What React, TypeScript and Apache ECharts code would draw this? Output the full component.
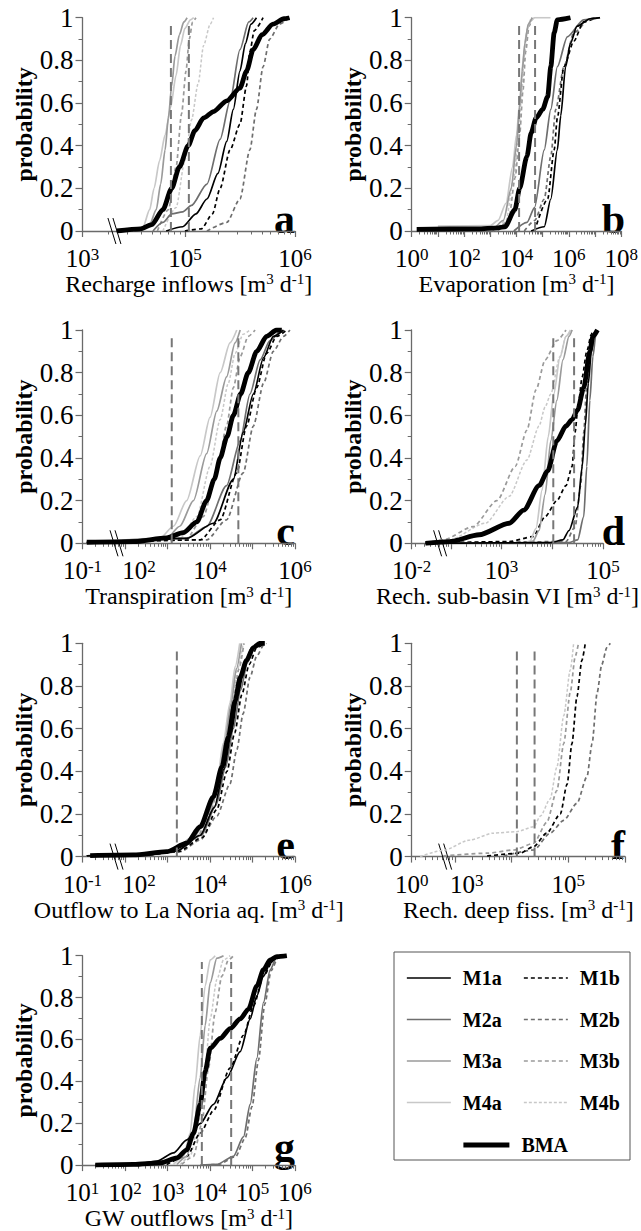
import React, { useEffect, useRef } from 'react';
import * as echarts from 'echarts';

// ---------------- DATA (x values are log10 of flow in m3/d, y = cumulative probability) ----------------
const panelKeys = ['a', 'b', 'c', 'd', 'e', 'f', 'g'];
const xTitles = ['Recharge inflows', 'Evaporation', 'Transpiration', 'Rech. sub-basin VI', 'Outflow to La Noria aq.', 'Rech. deep fiss.', 'GW outflows'];
const xMins = [4.07, 0, 1.0, 1.23, 1.0, 2.24, 1.0];
const xMaxs = [6, 8, 6, 5, 6, 6, 6];
const tickVals = [[4.07, 5, 6], [0, 2, 4, 6, 8], [1, 2, 4, 6], [1.23, 3, 5], [1, 2, 4, 6], [2.24, 3, 5], [1, 2, 3, 4, 5, 6]];
const tickExps = [['3', '5', '6'], ['0', '2', '4', '6', '8'], ['-1', '2', '4', '6'], ['-2', '3', '5'], ['-1', '2', '4', '6'], ['0', '3', '5'], ['1', '2', '3', '4', '5', '6']];
const breakAt = [4.36, null, 1.8, 1.79, 1.8, 2.83, null];
const obsLines = [[4.873, 5.036], [4.1, 4.71], [3.1, 4.667], [4.02, 4.43], [3.22], [4.094, 4.406], [3.808, 4.498]];
const yTicks = [0, 0.2, 0.4, 0.6, 0.8, 1];

// panel a
const aM1a = [[4.83, 0], [4.98, 0.02], [5.1, 0.08], [5.2, 0.15], [5.3, 0.27], [5.38, 0.42], [5.44, 0.57], [5.5, 0.75], [5.55, 0.88], [5.6, 0.97], [5.65, 1]];
const aM1b = [[5.0, 0], [5.15, 0.01], [5.25, 0.08], [5.32, 0.2], [5.41, 0.38], [5.5, 0.5], [5.56, 0.68], [5.59, 0.84], [5.63, 0.94], [5.71, 1]];
const aM2a = [[4.71, 0], [4.8, 0.04], [4.88, 0.08], [4.98, 0.09], [5.06, 0.12], [5.2, 0.22], [5.32, 0.43], [5.41, 0.61], [5.5, 0.85], [5.58, 0.98], [5.62, 1]];
const aM2b = [[5.2, 0], [5.38, 0.04], [5.5, 0.15], [5.59, 0.38], [5.65, 0.57], [5.71, 0.77], [5.77, 0.9], [5.86, 0.97], [5.95, 1]];
const aM3a = [[4.59, 0], [4.68, 0.03], [4.74, 0.1], [4.78, 0.22], [4.82, 0.38], [4.85, 0.53], [4.88, 0.68], [4.91, 0.82], [4.95, 0.92], [4.99, 0.98], [5.02, 1]];
const aM3b = [[4.75, 0], [4.85, 0.1], [4.92, 0.3], [4.97, 0.55], [5.01, 0.75], [5.04, 0.9], [5.07, 0.98], [5.1, 1]];
const aM4a = [[4.53, 0], [4.62, 0.02], [4.68, 0.1], [4.72, 0.2], [4.77, 0.33], [4.82, 0.45], [4.87, 0.58], [4.92, 0.73], [4.96, 0.87], [5.0, 0.95], [5.05, 0.99], [5.08, 1]];
const aM4b = [[4.8, 0], [4.92, 0.11], [5.0, 0.33], [5.06, 0.52], [5.12, 0.69], [5.17, 0.87], [5.23, 0.97], [5.26, 1]];
const aBMA = [[4.38, 0], [4.6, 0.01], [4.7, 0.03], [4.8, 0.1], [4.88, 0.2], [4.95, 0.3], [5.03, 0.4], [5.09, 0.47], [5.17, 0.53], [5.26, 0.56], [5.38, 0.61], [5.5, 0.67], [5.56, 0.75], [5.62, 0.85], [5.7, 0.92], [5.8, 0.97], [5.9, 0.995], [5.95, 1]];

// panel b
const bM1a = [[4.56, 0], [5.06, 0.02], [5.31, 0.15], [5.56, 0.38], [5.69, 0.54], [5.875, 0.77], [6.06, 0.88], [6.31, 0.96], [6.81, 0.995], [7.19, 1]];
const bM1b = [[4.69, 0], [5.19, 0.15], [5.44, 0.38], [5.56, 0.53], [5.81, 0.77], [6.19, 0.89], [6.56, 0.98], [7.06, 1]];
const bM2a = [[3.9, 0], [4.4, 0.04], [4.69, 0.11], [5.06, 0.38], [5.31, 0.57], [5.56, 0.77], [5.94, 0.91], [6.56, 0.99], [7.19, 1]];
const bM2b = [[4.3, 0], [4.7, 0.05], [5.06, 0.15], [5.31, 0.35], [5.5, 0.57], [5.81, 0.77], [6.19, 0.93], [6.81, 0.995], [7.0, 1]];
const bM3a = [[3.1, 0], [3.5, 0.05], [3.8, 0.2], [4.0, 0.4], [4.12, 0.58], [4.22, 0.75], [4.32, 0.88], [4.45, 0.97], [4.6, 1]];
const bM3b = [[3.3, 0], [3.7, 0.05], [3.95, 0.25], [4.12, 0.45], [4.25, 0.66], [4.35, 0.84], [4.48, 0.96], [4.6, 1]];
const bM4a = [[1.0, 0.023], [3.0, 0.025], [3.3, 0.05], [3.6, 0.13], [3.85, 0.3], [4.0, 0.45], [4.12, 0.6], [4.25, 0.8], [4.38, 0.93], [4.5, 0.98], [4.7, 1], [5.3, 1]];
const bM4b = [[3.2, 0], [3.6, 0.05], [3.9, 0.25], [4.08, 0.45], [4.2, 0.65], [4.3, 0.82], [4.42, 0.95], [4.55, 1]];
const bBMA = [[0.19, 0.008], [2.5, 0.01], [3.3, 0.015], [3.56, 0.02], [3.94, 0.1], [4.12, 0.2], [4.4, 0.35], [4.56, 0.46], [4.75, 0.53], [5.0, 0.57], [5.19, 0.63], [5.31, 0.77], [5.44, 0.93], [5.56, 0.99], [6.06, 1]];

// panel c
const cM1a = [[1.1, 0.003], [3.45, 0.023], [4.08, 0.094], [4.55, 0.3], [4.78, 0.52], [5.02, 0.7], [5.26, 0.87], [5.49, 0.97], [5.73, 1]];
const cM1b = [[1.1, 0.003], [3.77, 0.016], [4.24, 0.11], [4.63, 0.33], [4.86, 0.55], [5.1, 0.73], [5.33, 0.89], [5.57, 0.97], [5.8, 1]];
const cM2a = [[1.1, 0.003], [3.45, 0.023], [3.92, 0.078], [4.39, 0.27], [4.71, 0.48], [4.94, 0.7], [5.18, 0.86], [5.41, 0.95], [5.65, 1]];
const cM2b = [[1.1, 0.003], [3.92, 0.016], [4.39, 0.11], [4.78, 0.33], [5.02, 0.55], [5.26, 0.75], [5.49, 0.9], [5.73, 0.97], [5.88, 1]];
const cM3a = [[1.1, 0.003], [2.98, 0.023], [3.29, 0.08], [3.61, 0.2], [3.92, 0.42], [4.16, 0.62], [4.39, 0.78], [4.59, 0.94], [4.71, 1]];
const cM3b = [[1.1, 0.003], [3.45, 0.023], [3.84, 0.125], [4.16, 0.33], [4.39, 0.55], [4.55, 0.73], [4.71, 0.875], [4.9, 0.97], [5.06, 1]];
const cM4a = [[1.1, 0.003], [2.82, 0.023], [3.14, 0.08], [3.45, 0.2], [3.77, 0.41], [4.0, 0.59], [4.24, 0.8], [4.47, 0.94], [4.63, 1]];
const cM4b = [[1.1, 0.003], [3.29, 0.023], [3.69, 0.125], [4.0, 0.36], [4.24, 0.58], [4.43, 0.75], [4.59, 0.89], [4.78, 0.98], [4.94, 1]];
const cBMA = [[1.1, 0.005], [2.2, 0.008], [2.98, 0.025], [3.37, 0.05], [3.69, 0.1], [3.92, 0.2], [4.1, 0.3], [4.24, 0.4], [4.4, 0.5], [4.55, 0.6], [4.72, 0.7], [4.9, 0.8], [5.1, 0.9], [5.33, 0.97], [5.57, 1], [5.69, 1]];

// panel d
const dM1a = [[1.5, 0], [3.97, 0.003], [4.21, 0.016], [4.33, 0.06], [4.5, 0.17], [4.59, 0.36], [4.65, 0.55], [4.71, 0.75], [4.77, 0.9], [4.83, 0.98], [4.89, 1]];
const dM1b = [[1.5, 0], [3.15, 0.008], [3.62, 0.031], [3.86, 0.125], [4.09, 0.2], [4.27, 0.27], [4.39, 0.36], [4.45, 0.52], [4.5, 0.625], [4.59, 0.78], [4.68, 0.9], [4.77, 0.98], [4.8, 1]];
const dM2a = [[1.5, 0], [4.33, 0.003], [4.5, 0.016], [4.62, 0.125], [4.68, 0.36], [4.74, 0.67], [4.8, 0.875], [4.86, 0.98], [4.89, 1]];
const dM2b = [[1.5, 0], [4.27, 0.008], [4.45, 0.078], [4.56, 0.27], [4.62, 0.52], [4.68, 0.75], [4.74, 0.9], [4.8, 0.98], [4.86, 1]];
const dM3a = [[1.5, 0], [3.5, 0], [3.62, 0.01], [3.74, 0.06], [3.86, 0.23], [3.97, 0.48], [4.09, 0.67], [4.21, 0.86], [4.33, 0.97], [4.39, 1]];
const dM3b = [[1.5, 0], [1.85, 0.016], [2.44, 0.078], [2.91, 0.2], [3.27, 0.36], [3.5, 0.53], [3.68, 0.72], [3.86, 0.86], [4.09, 0.95], [4.27, 1]];
const dM4a = [[1.5, 0], [3.45, 0], [3.56, 0.01], [3.68, 0.07], [3.8, 0.25], [3.92, 0.5], [4.03, 0.7], [4.15, 0.87], [4.27, 0.97], [4.36, 1]];
const dM4b = [[1.5, 0], [1.97, 0.016], [2.68, 0.094], [3.15, 0.22], [3.5, 0.39], [3.74, 0.55], [3.86, 0.64], [3.97, 0.7], [4.15, 0.875], [4.27, 0.97], [4.39, 1]];
const dBMA = [[1.5, 0], [1.97, 0.008], [2.56, 0.04], [3.15, 0.094], [3.44, 0.156], [3.74, 0.27], [3.91, 0.34], [4.09, 0.48], [4.27, 0.55], [4.39, 0.58], [4.5, 0.625], [4.62, 0.73], [4.74, 0.9], [4.8, 0.97], [4.89, 1]];

// panel e
const eM1a = [[1.1, 0.003], [2.5, 0.008], [3.2, 0.025], [3.77, 0.1], [4.1, 0.23], [4.33, 0.41], [4.5, 0.58], [4.66, 0.76], [4.82, 0.9], [4.98, 0.98], [5.18, 1]];
const eM1b = [[1.1, 0.003], [2.5, 0.008], [3.25, 0.023], [3.82, 0.09], [4.16, 0.22], [4.4, 0.4], [4.58, 0.58], [4.75, 0.76], [4.92, 0.9], [5.1, 0.98], [5.28, 1]];
const eM2a = [[1.1, 0.003], [2.5, 0.008], [3.2, 0.025], [3.8, 0.1], [4.14, 0.24], [4.37, 0.42], [4.55, 0.6], [4.72, 0.78], [4.88, 0.91], [5.05, 0.98], [5.22, 1]];
const eM2b = [[1.1, 0.003], [2.5, 0.008], [3.3, 0.023], [3.77, 0.078], [4.16, 0.19], [4.47, 0.34], [4.63, 0.5], [4.78, 0.67], [4.94, 0.84], [5.1, 0.94], [5.26, 0.99], [5.33, 1]];
const eM3a = [[1.1, 0.003], [2.5, 0.01], [3.14, 0.03], [3.65, 0.1], [3.96, 0.2], [4.2, 0.36], [4.35, 0.54], [4.5, 0.72], [4.62, 0.88], [4.74, 1]];
const eM3b = [[1.1, 0.003], [2.5, 0.01], [3.25, 0.03], [3.72, 0.1], [4.02, 0.21], [4.24, 0.38], [4.4, 0.55], [4.55, 0.73], [4.68, 0.88], [4.8, 1]];
const eM4a = [[1.1, 0.003], [2.5, 0.01], [3.14, 0.031], [3.61, 0.094], [3.92, 0.19], [4.16, 0.34], [4.31, 0.53], [4.47, 0.72], [4.59, 0.89], [4.7, 1]];
const eM4b = [[1.1, 0.003], [2.5, 0.01], [3.2, 0.03], [3.7, 0.1], [4.0, 0.21], [4.22, 0.38], [4.38, 0.55], [4.52, 0.72], [4.65, 0.88], [4.78, 1]];
const eBMA = [[1.18, 0.005], [2.2, 0.008], [2.98, 0.023], [3.45, 0.0625], [3.77, 0.14], [4.08, 0.28], [4.28, 0.42], [4.43, 0.56], [4.59, 0.73], [4.71, 0.84], [4.86, 0.92], [5.02, 0.98], [5.18, 1], [5.29, 1]];

// panel f (only "b" models)
const fM1b = [[3.57, 0.003], [4.15, 0.016], [4.39, 0.047], [4.62, 0.11], [4.86, 0.2], [4.98, 0.34], [5.065, 0.53], [5.153, 0.75], [5.24, 0.92], [5.3, 1]];
const fM2b = [[3.86, 0.003], [4.39, 0.031], [4.68, 0.11], [4.92, 0.17], [5.153, 0.25], [5.33, 0.375], [5.42, 0.53], [5.51, 0.77], [5.59, 0.9], [5.68, 0.98], [5.74, 1]];
const fM3b = [[2.8, 0.003], [3.57, 0.016], [4.04, 0.031], [4.39, 0.0625], [4.62, 0.16], [4.8, 0.31], [4.92, 0.53], [5.035, 0.77], [5.124, 0.94], [5.18, 1]];
const fM4b = [[2.39, 0], [2.8, 0.03], [3.27, 0.078], [3.68, 0.11], [4.09, 0.117], [4.39, 0.14], [4.51, 0.19], [4.68, 0.27], [4.8, 0.42], [4.92, 0.66], [5.035, 0.875], [5.094, 1]];

// panel g
const gM1a = [[1.3, 0], [2.2, 0.003], [2.75, 0.019], [3.14, 0.058], [3.455, 0.12], [3.769, 0.198], [4.082, 0.29], [4.396, 0.417], [4.71, 0.542], [4.945, 0.698], [5.102, 0.808], [5.259, 0.902], [5.416, 0.964], [5.573, 0.995], [5.65, 1]];
const gM1b = [[2.98, 0.003], [3.455, 0.042], [3.769, 0.152], [4.082, 0.26], [4.475, 0.464], [4.788, 0.62], [5.024, 0.76], [5.259, 0.902], [5.494, 0.98], [5.651, 1]];
const gM2a = [[3.77, 0], [4.16, 0.003], [4.55, 0.042], [4.79, 0.136], [4.945, 0.29], [5.102, 0.51], [5.259, 0.777], [5.416, 0.933], [5.573, 0.995], [5.73, 1]];
const gM2b = [[3.85, 0], [4.2, 0.003], [4.6, 0.04], [4.83, 0.13], [4.99, 0.28], [5.14, 0.5], [5.29, 0.77], [5.44, 0.93], [5.6, 0.99], [5.75, 1]];
const gM3a = [[3.22, 0.003], [3.455, 0.042], [3.612, 0.167], [3.769, 0.417], [3.886, 0.667], [4.004, 0.87], [4.161, 0.988], [4.318, 1]];
const gM3b = [[3.337, 0.003], [3.612, 0.042], [3.808, 0.198], [3.965, 0.464], [4.122, 0.73], [4.278, 0.902], [4.435, 0.98], [4.553, 1]];
const gM4a = [[3.14, 0.003], [3.376, 0.042], [3.533, 0.152], [3.651, 0.386], [3.769, 0.62], [3.886, 0.855], [4.004, 0.98], [4.122, 1]];
const gM4b = [[3.3, 0.003], [3.533, 0.042], [3.729, 0.198], [3.886, 0.464], [4.004, 0.698], [4.161, 0.886], [4.318, 0.98], [4.475, 1]];
const gBMA = [[1.3, 0], [2.2, 0.003], [2.83, 0.011], [3.22, 0.034], [3.455, 0.073], [3.612, 0.152], [3.769, 0.29], [3.886, 0.448], [4.004, 0.558], [4.239, 0.605], [4.475, 0.652], [4.71, 0.698], [4.906, 0.745], [5.102, 0.855], [5.259, 0.933], [5.416, 0.98], [5.573, 0.995], [5.808, 1]];

const curves: Record<string, Record<string, number[][]>> = {
  a: { M1a: aM1a, M1b: aM1b, M2a: aM2a, M2b: aM2b, M3a: aM3a, M3b: aM3b, M4a: aM4a, M4b: aM4b, BMA: aBMA },
  b: { M1a: bM1a, M1b: bM1b, M2a: bM2a, M2b: bM2b, M3a: bM3a, M3b: bM3b, M4a: bM4a, M4b: bM4b, BMA: bBMA },
  c: { M1a: cM1a, M1b: cM1b, M2a: cM2a, M2b: cM2b, M3a: cM3a, M3b: cM3b, M4a: cM4a, M4b: cM4b, BMA: cBMA },
  d: { M1a: dM1a, M1b: dM1b, M2a: dM2a, M2b: dM2b, M3a: dM3a, M3b: dM3b, M4a: dM4a, M4b: dM4b, BMA: dBMA },
  e: { M1a: eM1a, M1b: eM1b, M2a: eM2a, M2b: eM2b, M3a: eM3a, M3b: eM3b, M4a: eM4a, M4b: eM4b, BMA: eBMA },
  f: { M1b: fM1b, M2b: fM2b, M3b: fM3b, M4b: fM4b },
  g: { M1a: gM1a, M1b: gM1b, M2a: gM2a, M2b: gM2b, M3a: gM3a, M3b: gM3b, M4a: gM4a, M4b: gM4b, BMA: gBMA },
};

// ---------------- STYLE / LAYOUT ----------------
const FONT = 'Liberation Serif';
const AXIS = '#6a6a6a';
const DRAW_ORDER = ['M4b', 'M3b', 'M2b', 'M1b', 'M4a', 'M3a', 'M2a', 'M1a', 'BMA'];
const seriesStyle: Record<string, { color: string; type: any; width: number }> = {
  M1a: { color: '#000000', type: 'solid', width: 1.7 },
  M1b: { color: '#000000', type: [4, 3], width: 1.7 },
  M2a: { color: '#6e6e6e', type: 'solid', width: 1.7 },
  M2b: { color: '#6e6e6e', type: [4, 3], width: 1.7 },
  M3a: { color: '#9a9a9a', type: 'solid', width: 1.7 },
  M3b: { color: '#9a9a9a', type: [4, 3], width: 1.7 },
  M4a: { color: '#c8c8c8', type: 'solid', width: 1.7 },
  M4b: { color: '#c8c8c8', type: [3, 2], width: 1.5 },
  BMA: { color: '#000000', type: 'solid', width: 4.8 },
};
const COL_LEFT = [82.5, 411.7];
const COL_W = [212.5, 213.3];
const ROW_TOP = [17.7, 330, 643.3, 955.7];
const GRID_H = 213.3;
const LABEL_SHIFT = [0, 0, 28, 0, 28, 24, 0]; // right-shift of the label just after an axis break

function buildOption() {
  const grid: any[] = [];
  const xAxis: any[] = [];
  const yAxis: any[] = [];
  const series: any[] = [];
  const graphic: any[] = [];

  panelKeys.forEach((key, i) => {
    const col = i % 2;
    const row = Math.floor(i / 2);
    const left = COL_LEFT[col];
    const width = COL_W[col];
    const top = ROW_TOP[row];
    grid.push({ left, top, width, height: GRID_H, containLabel: false });

    const min = xMins[i];
    const max = xMaxs[i];
    const majors: number[] = [min];
    const minors: number[] = [];
    for (let d = Math.floor(min); d <= Math.ceil(max); d++) {
      if (d > min + 1e-6 && d <= max + 1e-6) majors.push(d);
      for (let k = 2; k <= 9; k++) {
        const v = d + Math.log10(k);
        if (v > min + 1e-6 && v < max - 1e-6) minors.push(v);
      }
    }
    const tv = tickVals[i];
    const te = tickExps[i];
    const labelFormatter = (v: number) => {
      const j = tv.findIndex((t) => Math.abs(t - v) < 1e-6);
      if (j < 0) return '';
      const shifted = LABEL_SHIFT[i] > 0 && j === 1;
      return (shifted ? '{bp|10}' : '{b|10}') + '{s|' + te[j] + '}';
    };
    const axisLine = { show: true, onZero: false, lineStyle: { color: AXIS, width: 1.3 } };
    xAxis.push({
      type: 'value', gridIndex: i, min, max, position: 'bottom',
      axisLine,
      splitLine: { show: false },
      axisTick: { show: true, customValues: majors, length: 6, lineStyle: { color: AXIS, width: 1.2 } },
      axisLabel: {
        customValues: tv,
        formatter: labelFormatter,
        margin: 15,
        color: '#000',
        rich: {
          b: { fontFamily: FONT, fontSize: 25, color: '#000', verticalAlign: 'bottom' },
          bp: { fontFamily: FONT, fontSize: 25, color: '#000', verticalAlign: 'bottom', padding: [0, 0, 0, LABEL_SHIFT[i]] },
          s: { fontFamily: FONT, fontSize: 17, color: '#000', verticalAlign: 'top' },
        },
      },
      name: '{n|' + xTitles[i] + ' [m}{s|3}{n| d}{s|-1}{n|]}',
      nameLocation: 'middle',
      nameGap: 37,
      nameTextStyle: {
        rich: {
          n: { fontFamily: FONT, fontSize: 24, color: '#000', verticalAlign: 'bottom' },
          s: { fontFamily: FONT, fontSize: 15, color: '#000', verticalAlign: 'top' },
        },
      },
    });
    xAxis.push({
      type: 'value', gridIndex: i, min, max, position: 'bottom',
      axisLine: { show: false, onZero: false },
      splitLine: { show: false },
      axisTick: { show: true, customValues: minors, length: 3.5, lineStyle: { color: AXIS, width: 1 } },
      axisLabel: { show: false },
    });
    yAxis.push({
      type: 'value', gridIndex: i, min: 0, max: 1, interval: 0.2,
      axisLine: { show: true, lineStyle: { color: AXIS, width: 1.3 } },
      axisTick: { show: true, length: 7, lineStyle: { color: AXIS, width: 1.2 } },
      minorTick: { show: true, splitNumber: 2, length: 4, lineStyle: { color: AXIS, width: 1 } },
      splitLine: { show: false },
      minorSplitLine: { show: false },
      axisLabel: {
        margin: 9, fontFamily: FONT, fontSize: 27, color: '#000',
        customValues: yTicks,
        formatter: (v: number) => (v === 0 || v === 1 ? String(v) : v.toFixed(1)),
      },
      name: 'probability',
      nameLocation: 'middle',
      nameGap: 44,
      nameTextStyle: { fontFamily: FONT, fontSize: 24, fontWeight: 'bold', color: '#000' },
    });

    const data = curves[key];
    DRAW_ORDER.forEach((m) => {
      if (!data[m]) return;
      const st = seriesStyle[m];
      series.push({
        type: 'line', name: m, xAxisIndex: 2 * i, yAxisIndex: i,
        data: data[m], showSymbol: false, symbol: 'none',
        smooth: 0.25, smoothMonotone: 'x',
        lineStyle: { color: st.color, type: st.type, width: st.width },
        itemStyle: { color: st.color },
        emphasis: { disabled: true },
        silent: true,
      });
    });
    obsLines[i].forEach((xv, j) => {
      series.push({
        type: 'line', name: 'obs' + key + j, xAxisIndex: 2 * i, yAxisIndex: i,
        data: [[xv, 0], [xv, 0.97]], showSymbol: false, symbol: 'none',
        lineStyle: { color: '#777777', type: [9, 5], width: 2 },
        silent: true,
      });
    });
    if (breakAt[i] !== null) {
      series.push({
        type: 'custom', name: 'break' + key, xAxisIndex: 2 * i, yAxisIndex: i,
        data: [[breakAt[i], 0]], clip: false, silent: true,
        renderItem: (params: any, api: any) => {
          const p = api.coord([api.value(0), api.value(1)]);
          const h = 13, dx = 4, sep = 5;
          return {
            type: 'group',
            children: [
              { type: 'line', shape: { x1: p[0] - sep / 2 - dx, y1: p[1] - h, x2: p[0] - sep / 2 + dx, y2: p[1] + h }, style: { stroke: '#000', lineWidth: 1 } },
              { type: 'line', shape: { x1: p[0] + sep / 2 - dx, y1: p[1] - h, x2: p[0] + sep / 2 + dx, y2: p[1] + h }, style: { stroke: '#000', lineWidth: 1 } },
            ],
          };
        },
      });
    }
    // panel letter
    graphic.push({
      type: 'text',
      x: left + width,
      y: top + GRID_H + (key === 'g' ? -1 : 9),
      style: { text: key, font: 'bold 42px "Liberation Serif"', fill: '#000', align: 'right', verticalAlign: 'bottom' },
      silent: true,
    });
  });

  // legend frame
  graphic.push({
    type: 'rect', shape: { x: 394, y: 952, width: 236, height: 208 },
    style: { fill: 'none', stroke: '#555', lineWidth: 1 }, silent: true,
  });

  const legendText = { fontFamily: FONT, fontWeight: 'bold', fontSize: 20, color: '#000', lineHeight: 22, padding: [0, 0, 0, 7] };
  const legendBase = {
    orient: 'vertical', padding: 0, itemWidth: 44, itemHeight: 14, itemGap: 19.5,
    textStyle: legendText, selectedMode: false,
    itemStyle: { opacity: 0 },
    lineStyle: { width: 'inherit' },
  };
  const legend = [
    { ...legendBase, left: 406, top: 967, data: ['M1a', 'M2a', 'M3a', 'M4a'] },
    { ...legendBase, left: 523, top: 967, data: ['M1b', 'M2b', 'M3b', 'M4b'] },
    { ...legendBase, left: 461, top: 1134, itemWidth: 46, data: ['BMA'] },
  ];

  return { animation: false, backgroundColor: '#fff', grid, xAxis, yAxis, series, graphic, legend };
}

export default function App() {
  const ref = useRef<HTMLDivElement>(null);
  useEffect(() => {
    if (!ref.current) return;
    const chart = echarts.init(ref.current, undefined, { renderer: 'svg' });
    chart.setOption(buildOption() as any);
    return () => chart.dispose();
  }, []);
  return <div ref={ref} style={{ position: 'absolute', left: 0, top: 0, width: 641, height: 1231 }} />;
}
